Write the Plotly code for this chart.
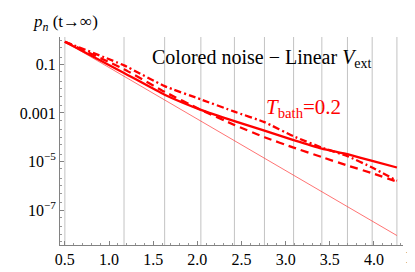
import plotly.graph_objects as go

# Energy levels (x positions of points / vertical grid lines)
energies = [0.5, 1.17, 1.63, 2.04, 2.42, 2.76, 3.09, 3.41, 3.70, 3.98, 4.26]

# stationary populations p_n (t -> infinity)
p_solid = [0.861, 0.0446, 0.00566, 0.00135, 4.6e-4, 1.875e-4, 7.64e-5, 3.41e-5, 1.99e-5, 1.06e-5, 5.66e-6]
p_dashed = [0.861, 0.0638, 0.00741, 0.00135, 3.21e-4, 1.0e-4, 3.73e-5, 1.52e-5, 6.79e-6, 3.31e-6, 1.48e-6]
p_dashdot = [0.861, 0.0914, 0.0127, 0.00362, 0.00113, 4.21e-4, 1.09e-4, 3.73e-5, 1.66e-5, 5.66e-6, 1.61e-6]
p_thin = [0.861, 0.0329, 0.00349, 4.6e-4, 7.05e-5, 1.34e-5, 2.72e-6, 5.75e-7, 1.36e-7, 3.57e-8, 8.89e-9]

x_ticks = [0.5, 1.0, 1.5, 2.0, 2.5, 3.0, 3.5, 4.0]
y_tickvals = [0.1, 0.001, 1e-5, 1e-7]
y_ticktext = ["0.1", "0.001", "10<sup>\u22125</sup>", "10<sup>\u22127</sup>"]

RED = "rgb(255,0,0)"
FONT = "Liberation Serif"

fig = go.Figure()
fig.add_trace(go.Scatter(x=energies, y=p_thin, mode="lines",
                         line=dict(color="rgba(255,60,60,0.9)", width=0.8)))
fig.add_trace(go.Scatter(x=energies, y=p_dashed, mode="lines",
                         line=dict(color=RED, width=2.3, dash="8px,5px", shape="spline", smoothing=0.35)))
fig.add_trace(go.Scatter(x=energies, y=p_dashdot, mode="lines",
                         line=dict(color=RED, width=2.3, dash="7px,3px,2px,3px", shape="spline", smoothing=0.35)))
fig.add_trace(go.Scatter(x=energies, y=p_solid, mode="lines",
                         line=dict(color=RED, width=2.3, shape="spline", smoothing=0.4)))

for e in energies:
    fig.add_shape(type="line", xref="x", yref="paper", x0=e, x1=e, y0=0, y1=1,
                  line=dict(color="rgb(195,195,195)", width=1), layer="below")

fig.update_layout(
    width=415, height=272,
    margin=dict(l=40, r=20, t=29, b=23),
    plot_bgcolor="white", paper_bgcolor="white",
    showlegend=False,
    font=dict(family=FONT, size=16, color="black"),
    xaxis=dict(range=[0.445, 4.329], tickmode="array", tickvals=x_ticks,
               ticktext=[f"{v:.1f}" for v in x_ticks],
               showgrid=False, zeroline=False, showline=True, linecolor="rgb(130,130,130)",
               linewidth=1, ticks="inside", ticklen=4, tickcolor="rgb(130,130,130)",
               minor=dict(dtick=0.1, tick0=0.5, ticks="inside", ticklen=2, tickcolor="rgb(150,150,150)", showgrid=False),
               tickfont=dict(family=FONT, size=16)),
    yaxis=dict(type="log", range=[-8.441, 0.130], tickmode="array", tickvals=y_tickvals,
               ticktext=y_ticktext, showgrid=False, zeroline=False, showline=True,
               linecolor="rgb(130,130,130)", linewidth=1, ticks="inside", ticklen=4,
               tickcolor="rgb(130,130,130)",
               minor=dict(ticks="inside", ticklen=2, tickcolor="rgb(150,150,150)", showgrid=False),
               tickfont=dict(family=FONT, size=16)),
)

fig.add_annotation(text="<i>p<sub>n</sub></i> (t\u2192\u221e)", xref="paper", yref="paper",
                   x=-0.085, y=1.0, yshift=14, xanchor="left", yanchor="middle", showarrow=False,
                   font=dict(family=FONT, size=17))
fig.add_annotation(text="E", xref="paper", yref="paper", x=1.0, y=0.0, xshift=8, yshift=-12,
                   xanchor="center", yanchor="middle", showarrow=False, font=dict(family=FONT, size=17))
fig.add_annotation(text="Colored noise \u2212 Linear <i>V</i><sub>ext</sub>", xref="x", yref="y",
                   x=2.73, y=-0.74, xanchor="center", yanchor="middle", showarrow=False,
                   font=dict(family=FONT, size=20))
fig.add_annotation(text="<i>T</i><sub>bath</sub>=0.2", xref="x", yref="y",
                   x=3.20, y=-2.8, xanchor="center", yanchor="middle", showarrow=False,
                   font=dict(family=FONT, size=21, color=RED))

fig.write_html("out.html")
